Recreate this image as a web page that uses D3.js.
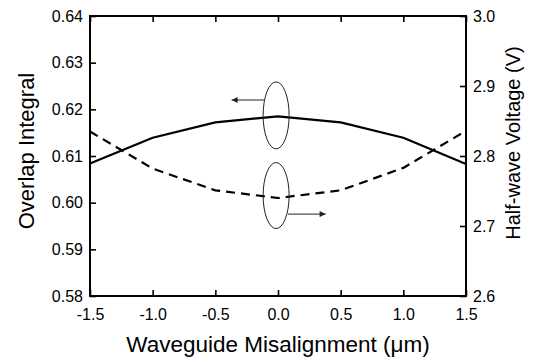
<!DOCTYPE html>
<html>
<head>
<meta charset="utf-8">
<script src="https://cdn.jsdelivr.net/npm/d3@7"></script>
<style>
  html, body { margin: 0; padding: 0; background: #fff; }
  svg { display: block; font-family: "Liberation Sans", Arial, sans-serif; }
</style>
</head>
<body>
<script>
// misalignment positions (um)
const misalignment = [-1.5, -1.0, -0.5, 0.0, 0.5, 1.0, 1.5];
// overlap integral (left axis, solid)
const overlap = [0.6084, 0.6139, 0.6172, 0.6185, 0.6172, 0.6139, 0.6083];
// half-wave voltage in V (right axis, dashed)
const halfWave = [2.835, 2.782, 2.751, 2.740, 2.751, 2.783, 2.836];

const xTicks = [-1.5, -1.0, -0.5, 0.0, 0.5, 1.0, 1.5];
const leftTicks = [0.58, 0.59, 0.60, 0.61, 0.62, 0.63, 0.64];
const rightTicks = [2.6, 2.7, 2.8, 2.9, 3.0];

// annotation marks in data units: ellipse centres and arrow ends
const upperEllipse = { x: -0.015, y: 0.6187 };
const lowerEllipse = { x: -0.015, v: 2.7435 };
const upperArrow = { x1: -0.11, x2: -0.37, y: 0.622 };
const lowerArrow = { x1: 0.08, x2: 0.38, v: 2.717 };

const width = 533, height = 360;
const margin = { left: 90, right: 67, top: 16, bottom: 64 };

const x = d3.scaleLinear([-1.5, 1.5], [margin.left, width - margin.right]);
const yL = d3.scaleLinear([0.58, 0.64], [height - margin.bottom, margin.top]);
const yR = d3.scaleLinear([2.6, 3.0], [height - margin.bottom, margin.top]);

const svg = d3.select("body").append("svg")
    .attr("width", width)
    .attr("height", height)
    .attr("viewBox", `0 0 ${width} ${height}`);

const tickLen = 6;
const fontTick = 16;

function styleAxis(g) {
  g.select(".domain").remove();
  g.selectAll(".tick line").attr("stroke", "#000").attr("stroke-width", 1.6);
  g.selectAll(".tick text")
      .attr("font-size", fontTick)
      .attr("font-family", "Liberation Sans, Arial, sans-serif")
      .attr("fill", "#000");
}

// bottom
svg.append("g")
    .attr("transform", `translate(0,${yL.range()[0]})`)
    .call(d3.axisBottom(x).tickValues(xTicks).tickSizeInner(-tickLen).tickSizeOuter(0)
      .tickPadding(12.6).tickFormat(d => d.toFixed(1)))
    .call(styleAxis);

// top (ticks only)
svg.append("g")
    .attr("transform", `translate(0,${yL.range()[1]})`)
    .call(d3.axisTop(x).tickValues(xTicks).tickSizeInner(-tickLen).tickSizeOuter(0).tickFormat(""))
    .call(styleAxis);

// left
svg.append("g")
    .attr("transform", `translate(${x.range()[0]},0)`)
    .call(d3.axisLeft(yL).tickValues(leftTicks).tickSizeInner(-tickLen).tickSizeOuter(0)
      .tickPadding(7).tickFormat(d => d.toFixed(2)))
    .call(styleAxis);

// right
svg.append("g")
    .attr("transform", `translate(${x.range()[1]},0)`)
    .call(d3.axisRight(yR).tickValues(rightTicks).tickSizeInner(-tickLen).tickSizeOuter(0)
      .tickPadding(7).tickFormat(d => d.toFixed(1)))
    .call(styleAxis);

// frame
svg.append("rect")
    .attr("x", x.range()[0])
    .attr("y", yL.range()[1])
    .attr("width", x.range()[1] - x.range()[0])
    .attr("height", yL.range()[0] - yL.range()[1])
    .attr("fill", "none")
    .attr("stroke", "#000")
    .attr("stroke-width", 2);

// series
const solidLine = d3.line().x((d, i) => x(misalignment[i])).y(d => yL(d));
const dashLine = d3.line().x((d, i) => x(misalignment[i])).y(d => yR(d));

svg.append("path")
    .attr("d", solidLine(overlap))
    .attr("fill", "none")
    .attr("stroke", "#000")
    .attr("stroke-width", 2.2)
    .attr("stroke-linejoin", "round");

svg.append("path")
    .attr("d", dashLine(halfWave))
    .attr("fill", "none")
    .attr("stroke", "#000")
    .attr("stroke-width", 2.2)
    .attr("stroke-dasharray", "9,6");

// annotations
svg.append("defs").append("marker")
    .attr("id", "head")
    .attr("viewBox", "0 0 10 10")
    .attr("refX", 10).attr("refY", 5)
    .attr("markerWidth", 8).attr("markerHeight", 6)
    .attr("markerUnits", "userSpaceOnUse")
    .attr("orient", "auto")
  .append("path")
    .attr("d", "M0,0L10,5L0,10Z")
    .attr("fill", "#222");

svg.append("ellipse")
    .attr("cx", x(upperEllipse.x)).attr("cy", yL(upperEllipse.y))
    .attr("rx", 13).attr("ry", 33.5)
    .attr("fill", "none").attr("stroke", "#222").attr("stroke-width", 1);

svg.append("ellipse")
    .attr("cx", x(lowerEllipse.x)).attr("cy", yR(lowerEllipse.v))
    .attr("rx", 13).attr("ry", 33)
    .attr("fill", "none").attr("stroke", "#222").attr("stroke-width", 1);

svg.append("line")
    .attr("x1", x(upperArrow.x1)).attr("x2", x(upperArrow.x2))
    .attr("y1", yL(upperArrow.y)).attr("y2", yL(upperArrow.y))
    .attr("stroke", "#222").attr("stroke-width", 1)
    .attr("marker-end", "url(#head)");

svg.append("line")
    .attr("x1", x(lowerArrow.x1)).attr("x2", x(lowerArrow.x2))
    .attr("y1", yR(lowerArrow.v)).attr("y2", yR(lowerArrow.v))
    .attr("stroke", "#222").attr("stroke-width", 1)
    .attr("marker-end", "url(#head)");

// axis titles
svg.append("text")
    .attr("x", 278).attr("y", 352)
    .attr("text-anchor", "middle")
    .attr("font-size", 22.5)
    .text("Waveguide Misalignment (\u03bcm)");

svg.append("text")
    .attr("transform", "translate(34,151) rotate(-90)")
    .attr("text-anchor", "middle")
    .attr("font-size", 22)
    .text("Overlap Integral");

svg.append("text")
    .attr("transform", "translate(520,143) rotate(-90)")
    .attr("text-anchor", "middle")
    .attr("font-size", 20)
    .text("Half-wave Voltage (V)");
</script>
</body>
</html>
